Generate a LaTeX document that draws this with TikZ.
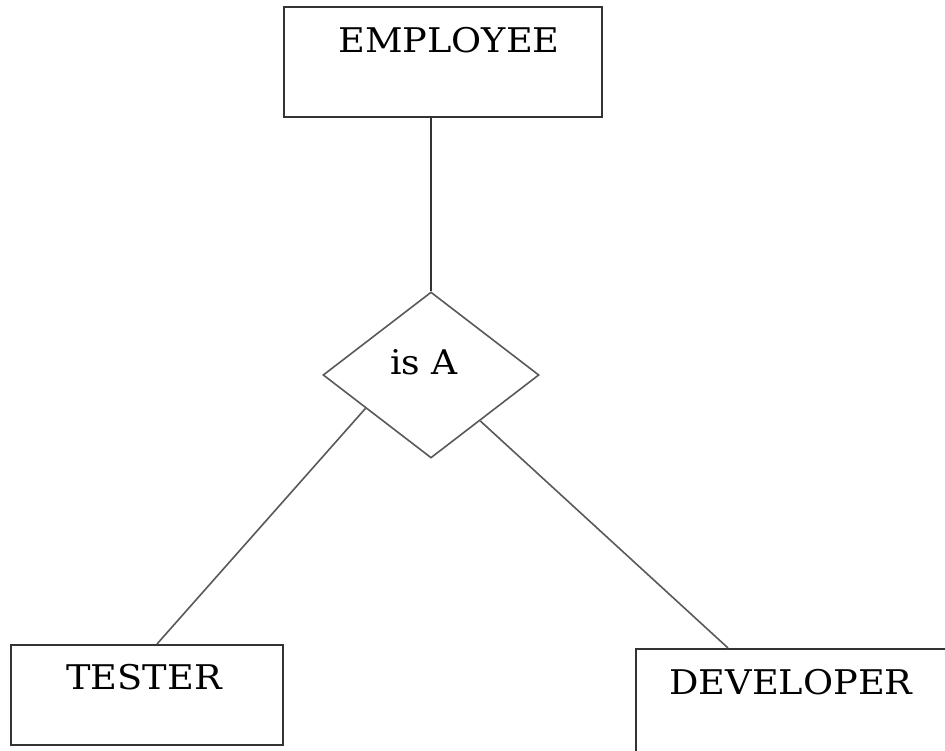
\documentclass[tikz,border=0pt]{standalone}
\usepackage{fontspec}
\setmainfont{DejaVu Serif}
\usetikzlibrary{shapes.geometric}
\begin{document}
\begin{tikzpicture}[x=1pt,y=1pt,
  entity/.style={draw=black!80, line width=2pt, rectangle, inner sep=0pt, fill=white},
  relation/.style={draw=black!65, line width=1.6pt, diamond, inner sep=0pt,
    minimum width=216pt, minimum height=166pt},
  link/.style={draw=black!65, line width=1.6pt},
  caption/.style={inner sep=0pt, font=\fontsize{34}{40}\selectfont, text=black}]
  \useasboundingbox[fill=white] (0,0) rectangle (945,750);

  % entity boxes
  \node[entity, minimum width=318pt, minimum height=110pt] (employee) at (443,688) {};
  \node[entity, minimum width=272pt, minimum height=100pt] (tester) at (147,55) {};
  \node[entity, minimum width=330pt, minimum height=115pt] (developer) at (801,43.5) {};

  % specialisation relation
  \node[relation] (isa) at (431,375) {};

  % labels
  \node[caption] (employeeT) at (449,710) {\scalebox{1.08}[1]{EMPLOYEE}};
  \node[caption] (testerT) at (144,73) {\scalebox{1.08}[1]{TESTER}};
  \node[caption] (developerT) at (791,68) {\scalebox{1.08}[1]{DEVELOPER}};
  \node[caption] (isaT) at (424,388) {\scalebox{1.06}[1]{is A}};

  % connectors
  \draw[link, draw=black!80, line width=2pt] (isa.north) -- (isa.north |- employee.south);
  \draw[link] (isa.207) -- ([xshift=10pt]tester.north);
  \draw[link] (isa.317) -- ([xshift=-73pt]developer.north);
\end{tikzpicture}
\end{document}
